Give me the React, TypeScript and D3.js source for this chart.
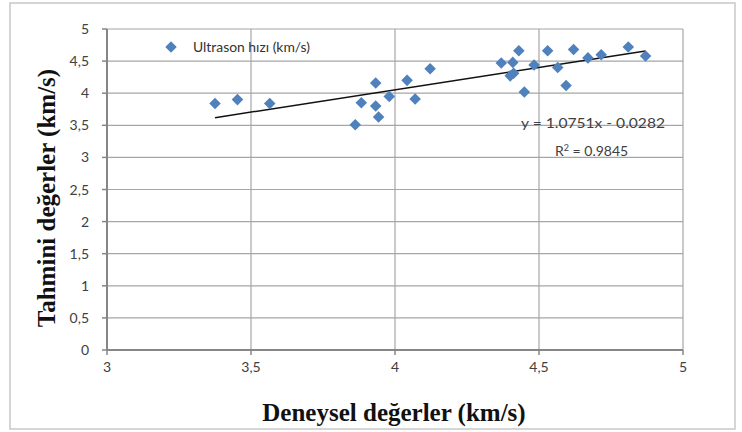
import { useMemo } from 'react';
import * as d3 from 'd3';

// experimental vs predicted ultrasonic speed (km/s)
const deneysel = [
  3.375, 3.453, 3.565, 3.862, 3.883, 3.933, 3.933, 3.943, 3.98, 4.042, 4.07, 4.122,
  4.369, 4.409, 4.43, 4.4, 4.412, 4.449, 4.483, 4.53, 4.565, 4.594, 4.62, 4.67,
  4.716, 4.81, 4.87,
];
const tahmini = [
  3.84, 3.9, 3.84, 3.51, 3.85, 4.16, 3.8, 3.63, 3.95, 4.2, 3.91, 4.38,
  4.47, 4.48, 4.66, 4.27, 4.31, 4.02, 4.44, 4.66, 4.4, 4.12, 4.68, 4.55,
  4.6, 4.72, 4.58,
];
const xTicks = [3, 3.5, 4, 4.5, 5];
const yTicks = [0, 0.5, 1, 1.5, 2, 2.5, 3, 3.5, 4, 4.5, 5];
const seriesName = 'Ultrason hızı (km/s)';
const equationText = 'y = 1.0751x - 0.0282';
const r2Value = '0.9845';

const W = 742;
const H = 432;
const plot = { left: 107, right: 683, top: 29, bottom: 350 };
const fmt = (v: number) => String(v).replace('.', ',');
const tickFont = 'Lato, "Open Sans", sans-serif';
const titleFont = '"Liberation Serif", "DejaVu Serif", serif';

export default function App() {
  const x = d3.scaleLinear().domain([3, 5]).range([plot.left, plot.right]);
  const y = d3.scaleLinear().domain([0, 5]).range([plot.bottom, plot.top]);

  const points = deneysel.map((d, i) => ({ x: d, y: tahmini[i] }));

  // least-squares trend line over the data range
  const trend = useMemo(() => {
    const mx = d3.mean(deneysel)!;
    const my = d3.mean(tahmini)!;
    let sxy = 0;
    let sxx = 0;
    deneysel.forEach((d, i) => {
      sxy += (d - mx) * (tahmini[i] - my);
      sxx += (d - mx) * (d - mx);
    });
    const slope = sxy / sxx;
    const x0 = d3.min(deneysel)!;
    const x1 = d3.max(deneysel)!;
    return [
      [x0, my + slope * (x0 - mx)],
      [x1, my + slope * (x1 - mx)],
    ] as [number, number][];
  }, []);

  const line = d3
    .line<[number, number]>()
    .x((d) => x(d[0]))
    .y((d) => y(d[1]));

  const diamond = d3.symbol().type(d3.symbolDiamond2).size(85)();

  return (
    <svg
      width={W}
      height={H}
      style={{ position: 'absolute', left: 0, top: 0, background: '#fff' }}
    >
      <rect x={10} y={3} width={725} height={426} fill="#fff" stroke="#c8c8c8" strokeWidth={1.5} />

      {/* grid */}
      {yTicks.map((t) => (
        <line key={'gy' + t} x1={plot.left} x2={plot.right} y1={y(t)} y2={y(t)} stroke="#a6a6a6" strokeWidth={1.2} />
      ))}
      {xTicks.map((t) => (
        <line key={'gx' + t} x1={x(t)} x2={x(t)} y1={plot.top} y2={plot.bottom} stroke="#a6a6a6" strokeWidth={1.2} />
      ))}

      {/* axes */}
      <line x1={plot.left} x2={plot.left} y1={plot.top} y2={plot.bottom} stroke="#868686" strokeWidth={2} />
      <line x1={plot.left} x2={plot.right} y1={plot.bottom} y2={plot.bottom} stroke="#868686" strokeWidth={2} />
      {yTicks.map((t) => (
        <g key={'ty' + t}>
          <line x1={plot.left - 5} x2={plot.left} y1={y(t)} y2={y(t)} stroke="#868686" strokeWidth={1.5} />
          <text x={plot.left - 18} y={y(t) + 5} textAnchor="end" fontFamily={tickFont} fontSize={14} fill="#404040">
            {fmt(t)}
          </text>
        </g>
      ))}
      {xTicks.map((t) => (
        <g key={'tx' + t}>
          <line x1={x(t)} x2={x(t)} y1={plot.bottom} y2={plot.bottom + 5} stroke="#868686" strokeWidth={1.5} />
          <text x={x(t)} y={plot.bottom + 22} textAnchor="middle" fontFamily={tickFont} fontSize={14} fill="#404040">
            {fmt(t)}
          </text>
        </g>
      ))}

      {/* trend line */}
      <path d={line(trend) || ''} fill="none" stroke="#111" strokeWidth={1.5} />

      {/* points */}
      {points.map((p, i) => (
        <path key={i} d={diamond || ''} transform={`translate(${x(p.x)},${y(p.y)})`} fill="#4f81bd" />
      ))}

      {/* legend */}
      <path d={diamond || ''} transform="translate(171,47)" fill="#4f81bd" />
      <text x={193} y={52} fontFamily={tickFont} fontSize={14} fill="#333" textLength={117} lengthAdjust="spacingAndGlyphs">
        {seriesName}
      </text>

      {/* equation */}
      <text x={521} y={128} fontFamily={tickFont} fontSize={14} fill="#404040" textLength={144} lengthAdjust="spacingAndGlyphs">
        {equationText}
      </text>
      <text x={555} y={156} fontFamily={tickFont} fontSize={14} fill="#404040">
        R<tspan dy={-5} fontSize={9}>2</tspan>
        <tspan dy={5}> = {r2Value}</tspan>
      </text>

      {/* axis titles */}
      <text
        transform="translate(55,198) rotate(-90)"
        textAnchor="middle"
        fontFamily={titleFont}
        fontWeight="bold"
        fontSize={25}
        fill="#111"
      >
        Tahmini değerler (km/s)
      </text>
      <text x={394} y={421} textAnchor="middle" fontFamily={titleFont} fontWeight="bold" fontSize={25} fill="#111">
        Deneysel değerler (km/s)
      </text>
    </svg>
  );
}
